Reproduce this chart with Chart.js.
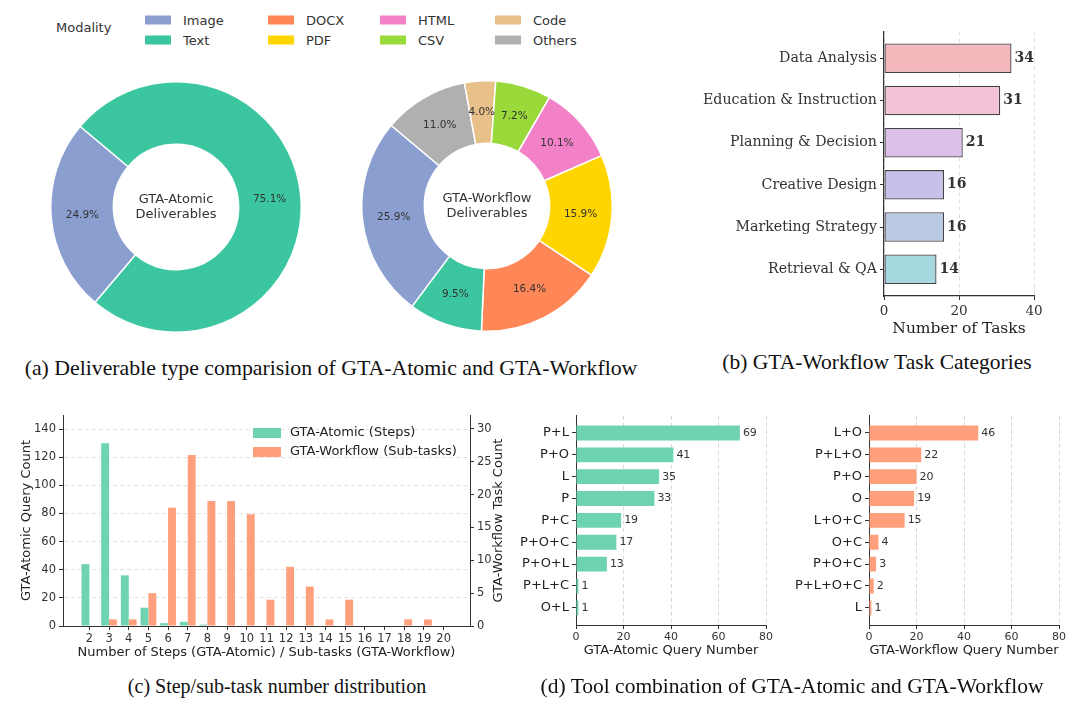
<!DOCTYPE html>
<html><head><meta charset="utf-8">
<script src="https://cdn.jsdelivr.net/npm/chart.js@4/dist/chart.umd.min.js"></script>
<style>
html,body{margin:0;padding:0;background:#fff;}
#wrap{position:relative;width:1080px;height:709px;overflow:hidden;font-family:'DejaVu Sans',sans-serif;background:#fff;}
canvas{position:absolute;}
.cap{position:absolute;font-family:'Liberation Serif','Times New Roman',serif;color:#111;white-space:nowrap;transform:translate(-50%,-50%);}
.legtxt{position:absolute;font-size:13px;color:#333;transform:translateY(-50%);white-space:nowrap;}
.sw{position:absolute;width:26px;height:9px;transform:translateY(-50%);}
</style></head><body><div id="wrap"></div>
<script>
// ---------------- DATA ----------------
const modalities = ['Image','Text','DOCX','PDF','HTML','CSV','Code','Others'];
const atomicDeliverableShare = [24.9, 75.1];                       // Image, Text
const workflowDeliverableShare = [25.9, 9.5, 16.4, 15.9, 10.1, 7.2, 4.0, 11.0]; // same order as modalities

const taskCategories = ['Data Analysis','Education & Instruction','Planning & Decision','Creative Design','Marketing Strategy','Retrieval & QA'];
const taskCounts = [34, 31, 21, 16, 16, 14];

const stepNumbers = [2,3,4,5,6,7,8,9,10,11,12,13,14,15,16,17,18,19,20];
const atomicStepCounts = [44,130,36,13,2,3,1,0,0,0,0,0,0,0,0,0,0,0,0];
const workflowSubtaskCounts = [0,1,1,5,18,26,19,19,17,4,9,6,1,4,0,0,1,1,0];
const leftCountTicks = [0,20,40,60,80,100,120,140];
const rightCountTicks = [0,5,10,15,20,25,30];

const atomicCombos = ['P+L','P+O','L','P','P+C','P+O+C','P+O+L','P+L+C','O+L'];
const atomicComboCounts = [69,41,35,33,19,17,13,1,1];
const workflowCombos = ['L+O','P+L+O','P+O','O','L+O+C','O+C','P+O+C','P+L+O+C','L'];
const workflowComboCounts = [46,22,20,19,15,4,3,2,1];
const queryTicks = [0,20,40,60,80];
const taskTicks = [0,20,40];

// ---------------- STYLE ----------------
const modalityColors = ['#8A9FCF','#3CC6A0','#FF8757','#FFD500','#F281C8','#9AD93A','#E8C08A','#B0B0B0'];
const catColors = ['#F4B8BC','#F2C2D9','#DCC0EA','#C5C1EA','#BACAE2','#A6D8E0'];
const TEAL = '#6DD3B3', ORANGE = '#FF9F7B';
const SANS = "'DejaVu Sans', sans-serif", SERIF = "'DejaVu Serif', serif";

Chart.defaults.font.family = SANS;
Chart.defaults.color = '#333';
Chart.defaults.animation = false;
Chart.defaults.responsive = false;
Chart.defaults.events = [];
Chart.defaults.plugins.legend.display = false;
Chart.defaults.plugins.tooltip.enabled = false;

const wrap = document.getElementById('wrap');
function mkCanvas(left, top, w, h){
  const c = document.createElement('canvas');
  c.width = w; c.height = h; c.style.left = left+'px'; c.style.top = top+'px';
  c.style.width = w+'px'; c.style.height = h+'px';
  wrap.appendChild(c); return c;
}
function caption(text, cx, cy, size){
  const d = document.createElement('div'); d.className='cap'; d.textContent=text;
  d.style.left=cx+'px'; d.style.top=cy+'px'; d.style.fontSize=size+'px'; wrap.appendChild(d);
}
const setTicks = vals => s => { s.ticks = vals.map(v => ({value:v})); };

// ---------------- (a) legend ----------------
(function(){
  const t = document.createElement('div'); t.className='legtxt'; t.textContent='Modality';
  t.style.left='56px'; t.style.top='27px'; wrap.appendChild(t);
  const colX = [145, 268, 380, 495];
  const rowY = [20, 40];
  modalities.forEach((m,i)=>{
    const col = Math.floor(i/2), row = i%2;
    const sw = document.createElement('div'); sw.className='sw';
    sw.style.left = colX[col]+'px'; sw.style.top = rowY[row]+'px'; sw.style.background = modalityColors[i];
    wrap.appendChild(sw);
    const tx = document.createElement('div'); tx.className='legtxt'; tx.textContent = m;
    tx.style.left = (colX[col]+38)+'px'; tx.style.top = rowY[row]+'px';
    wrap.appendChild(tx);
  });
})();

// ---------------- (a) donuts ----------------
function donutPlugin(centerLines){
  return { id:'donutText', afterDatasetsDraw(chart){
    const ctx = chart.ctx, meta = chart.getDatasetMeta(0), ds = chart.data.datasets[0];
    ctx.save(); ctx.fillStyle='#333'; ctx.textAlign='center'; ctx.textBaseline='middle';
    ctx.font = "10.5px 'DejaVu Sans'";
    meta.data.forEach((arc,i)=>{ const p = arc.tooltipPosition(); ctx.fillText(ds.data[i].toFixed(1)+'%', p.x, p.y); });
    const a0 = meta.data[0];
    ctx.font = "13px 'DejaVu Sans'";
    centerLines.forEach((t,j)=> ctx.fillText(t, a0.x, a0.y + (j-(centerLines.length-1)/2)*14.5));
    ctx.restore();
  }};
}
function donut(canvas, labels, values, colors, centerLines){
  // matplotlib draws counter-clockwise; Chart.js clockwise -> reverse order
  const L = labels.slice().reverse(), V = values.slice().reverse(), C = colors.slice().reverse();
  new Chart(canvas, {
    type:'doughnut',
    data:{labels:L, datasets:[{data:V, backgroundColor:C, borderColor:'#ffffff', borderWidth:1.5, hoverOffset:0, offset:0}]},
    options:{cutout:'50%', rotation:310, layout:{padding:0}},
    plugins:[donutPlugin(centerLines)]
  });
}
donut(mkCanvas(50, 81, 252, 252), modalities.slice(0,2), atomicDeliverableShare, modalityColors.slice(0,2), ['GTA-Atomic','Deliverables']);
donut(mkCanvas(361, 80, 252, 252), modalities, workflowDeliverableShare, modalityColors, ['GTA-Workflow','Deliverables']);

// ---------------- horizontal bar helpers ----------------
function hvals(font, color, offset){
  return { id:'hvals', afterDatasetsDraw(chart){
    const ctx = chart.ctx, meta = chart.getDatasetMeta(0), ds = chart.data.datasets[0];
    ctx.save(); ctx.font = font; ctx.fillStyle = color; ctx.textAlign='left'; ctx.textBaseline='middle';
    meta.data.forEach((el,i)=> ctx.fillText(String(ds.data[i].x), el.x + offset, el.y));
    ctx.restore();
  }};
}

// ---------------- (b) task categories ----------------
new Chart(mkCanvas(690, 20, 385, 325), {
  type:'bar',
  data:{datasets:[{data: taskCounts.map((v,i)=>({x:v, y:i})), backgroundColor:catColors, borderColor:'#444', borderWidth:1.3, borderSkipped:false, categoryPercentage:1, barPercentage:0.7}]},
  options:{
    indexAxis:'y',
    layout:{padding:{top:10, right:41, left:0, bottom:0}},
    scales:{
      x:{type:'linear', min:0, max:40, offset:false, afterBuildTicks:setTicks(taskTicks),
         ticks:{font:{family:SERIF, size:13.5}, color:'#333', padding:3, maxRotation:0},
         grid:{color:'#dedede', lineWidth:1, tickLength:4, tickColor:'#333', tickWidth:1, offset:false},
         border:{color:'#333', width:1.2, dash:[4,3]},
         title:{display:true, text:'Number of Tasks', font:{family:SERIF, size:15.5}, color:'#222', padding:{top:0, bottom:7}},
         afterFit:s=>{s.height=49;}},
      y:{type:'linear', reverse:true, min:-0.635, max:5.635, offset:false, afterBuildTicks:setTicks([0,1,2,3,4,5]),
         ticks:{callback:v=>taskCategories[v], font:{family:SERIF, size:14.2}, color:'#333', padding:3, autoSkip:false},
         grid:{drawOnChartArea:false, tickLength:4, tickColor:'#333', offset:false},
         border:{color:'#333', width:1.2},
         afterFit:s=>{s.width=194;}}
    }
  },
  plugins:[hvals("bold 14px 'DejaVu Serif'", '#333', 3)]
});

// ---------------- (c) step distribution ----------------
const cLegend = { id:'cLegend', afterDraw(chart){
  const ctx = chart.ctx; ctx.save();
  const items = chart.data.datasets;
  items.forEach((d,i)=>{
    const y = 28 + i*19;
    ctx.fillStyle = d.backgroundColor; ctx.fillRect(253, y-5, 28, 10);
    ctx.fillStyle = '#222'; ctx.font = "13px 'DejaVu Sans'"; ctx.textAlign='left'; ctx.textBaseline='middle';
    ctx.fillText(d.label, 290, y);
  });
  // right axis title, reading bottom-to-top
  const a = chart.chartArea;
  ctx.translate(499, (a.top+a.bottom)/2); ctx.rotate(-Math.PI/2);
  ctx.fillStyle='#222'; ctx.font="13px 'DejaVu Sans'"; ctx.textAlign='center'; ctx.textBaseline='middle';
  ctx.fillText('GTA-Workflow Task Count', 0, 0);
  ctx.restore();
}};
new Chart(mkCanvas(0, 405, 540, 265), {
  type:'bar',
  data:{datasets:[
    {label:'GTA-Atomic (Steps)', data: stepNumbers.map((s,i)=>({x:s, y:atomicStepCounts[i]})), backgroundColor:TEAL, yAxisID:'y', categoryPercentage:0.8, barPercentage:1, borderWidth:0},
    {label:'GTA-Workflow (Sub-tasks)', data: stepNumbers.map((s,i)=>({x:s, y:workflowSubtaskCounts[i]})), backgroundColor:ORANGE, yAxisID:'y1', categoryPercentage:0.8, barPercentage:1, borderWidth:0}
  ]},
  options:{
    layout:{padding:{top:10, left:0, right:0, bottom:0}},
    scales:{
      x:{type:'linear', min:0.66, max:21.34, offset:false, afterBuildTicks:setTicks(stepNumbers),
         ticks:{font:{size:11.5}, color:'#333', padding:2, autoSkip:false, maxRotation:0},
         grid:{drawOnChartArea:false, tickLength:4, tickColor:'#333', offset:false},
         border:{color:'#333', width:1},
         title:{display:true, text:'Number of Steps (GTA-Atomic) / Sub-tasks (GTA-Workflow)', font:{size:13}, color:'#222', padding:{top:0, bottom:10}},
         afterFit:s=>{s.height=44;}},
      y:{type:'linear', position:'left', min:0, max:150, afterBuildTicks:setTicks(leftCountTicks),
         ticks:{font:{size:11.5}, color:'#333', padding:3},
         grid:{color:'#e2e2e2', lineWidth:1, tickLength:4, tickColor:'#333'},
         border:{color:'#333', width:1, dash:[4,3]},
         title:{display:true, text:'GTA-Atomic Query Count', font:{size:13}, color:'#222', padding:{top:19, bottom:0}},
         afterFit:s=>{s.width=63;}},
      y1:{type:'linear', position:'right', min:0, max:32.1, afterBuildTicks:setTicks(rightCountTicks),
         ticks:{font:{size:11.5}, color:'#333', padding:3},
         grid:{drawOnChartArea:false, tickLength:4, tickColor:'#333'},
         border:{color:'#333', width:1},
         afterFit:s=>{s.width=70;}}
    }
  },
  plugins:[cLegend]
});

// ---------------- (d) tool combinations ----------------
function comboChart(canvas, cats, counts, color, title, yWidth, rightPad){
  new Chart(canvas, {
    type:'bar',
    data:{datasets:[{data: counts.map((v,i)=>({x:v, y:i})), backgroundColor:color, borderWidth:0, categoryPercentage:1, barPercentage:0.68}]},
    options:{
      indexAxis:'y',
      layout:{padding:{top:10, right:rightPad, left:0, bottom:0}},
      scales:{
        x:{type:'linear', min:0, max:80, offset:false, afterBuildTicks:setTicks(queryTicks),
           ticks:{font:{size:11}, color:'#333', padding:2, maxRotation:0},
           grid:{color:'#d8d8d8', lineWidth:1, tickLength:4, tickColor:'#333', offset:false},
           border:{color:'#333', width:1, dash:[4,3]},
           title:{display:true, text:title, font:{size:13}, color:'#222', padding:{top:0, bottom:7}},
           afterFit:s=>{s.height=40;}},
        y:{type:'linear', reverse:true, min:-0.785, max:8.785, offset:false, afterBuildTicks:setTicks([0,1,2,3,4,5,6,7,8]),
           ticks:{callback:v=>cats[v], font:{size:13}, color:'#222', padding:3, autoSkip:false},
           grid:{drawOnChartArea:false, tickLength:4, tickColor:'#333', offset:false},
           border:{color:'#333', width:1},
           afterFit:s=>{s.width=yWidth;}}
      }
    },
    plugins:[hvals("11px 'DejaVu Sans'", '#333', 3)]
  });
}
comboChart(mkCanvas(515, 405, 275, 260), atomicCombos, atomicComboCounts, TEAL, 'GTA-Atomic Query Number', 61, 24);
comboChart(mkCanvas(795, 405, 280, 260), workflowCombos, workflowComboCounts, ORANGE, 'GTA-Workflow Query Number', 74, 16);

// ---------------- captions ----------------
caption('(a) Deliverable type comparision of GTA-Atomic and GTA-Workflow', 331, 368, 21.8);
caption('(b) GTA-Workflow Task Categories', 877, 362, 21.5);
caption('(c) Step/sub-task number distribution', 277, 686, 20);
caption('(d) Tool combination of GTA-Atomic and GTA-Workflow', 792, 686, 21.5);
</script></body></html>
